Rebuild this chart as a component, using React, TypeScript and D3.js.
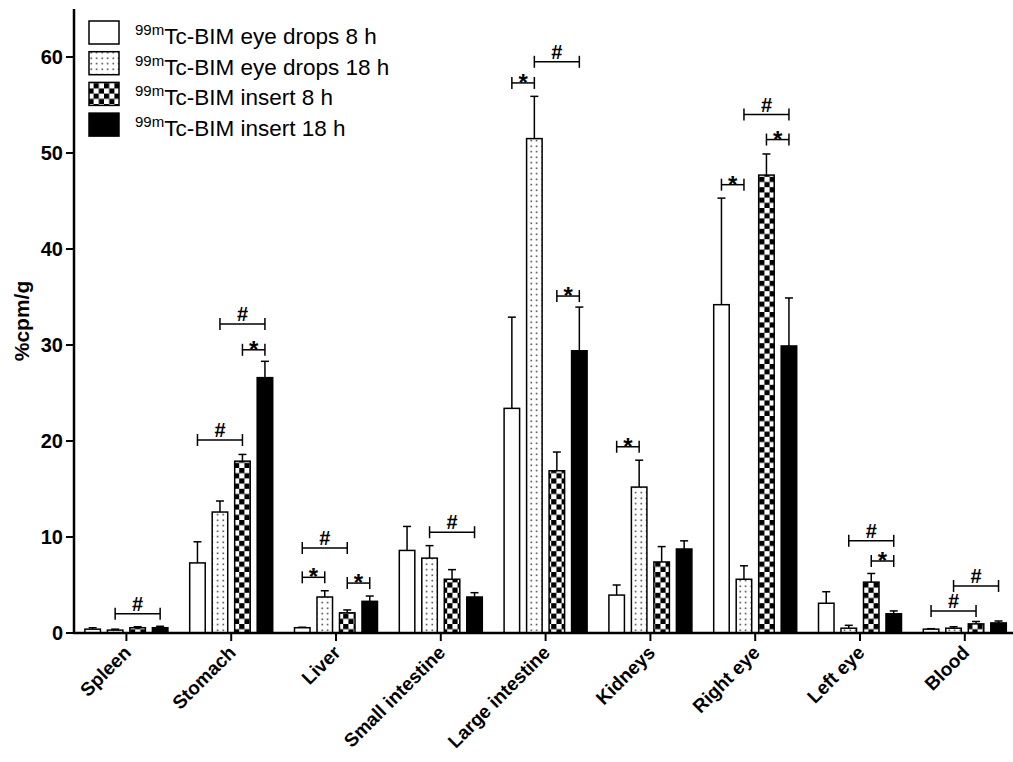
import React from 'react';
import * as d3 from 'd3';

// organs on the x axis
const organs = ['Spleen', 'Stomach', 'Liver', 'Small intestine', 'Large intestine', 'Kidneys', 'Right eye', 'Left eye', 'Blood'];

const seriesNames = [
  'Tc-BIM eye drops 8 h',
  'Tc-BIM eye drops 18 h',
  'Tc-BIM insert 8 h',
  'Tc-BIM insert 18 h',
];

// mean %cpm/g, one array per series (same order as organs)
const dropsMean8 = [0.4, 7.3, 0.55, 8.6, 23.4, 3.95, 34.2, 3.1, 0.4];
const dropsMean18 = [0.3, 12.6, 3.75, 7.8, 51.5, 15.2, 5.6, 0.5, 0.5];
const insertMean8 = [0.55, 17.9, 2.1, 5.6, 16.9, 7.4, 47.7, 5.3, 0.95];
const insertMean18 = [0.55, 26.6, 3.3, 3.75, 29.4, 8.75, 29.9, 2.0, 1.05];

// top of the error bar (mean + SD)
const dropsErr8 = [0.55, 9.5, 0.6, 11.1, 32.9, 5.0, 45.3, 4.3, 0.45];
const dropsErr18 = [0.4, 13.75, 4.4, 9.1, 55.9, 18.0, 7.0, 0.8, 0.65];
const insertErr8 = [0.65, 18.6, 2.4, 6.6, 18.85, 9.0, 49.9, 6.2, 1.2];
const insertErr18 = [0.7, 28.3, 3.85, 4.2, 33.95, 9.6, 34.9, 2.3, 1.25];

const means = [dropsMean8, dropsMean18, insertMean8, insertMean18];
const errs = [dropsErr8, dropsErr18, insertErr8, insertErr18];

// significance brackets: organ, from series, to series, height (data units), symbol
const brackets: [number, number, number, number, string][] = [
  [0, 1, 3, 2.0, '#'],
  [1, 0, 2, 20.1, '#'],
  [1, 1, 3, 32.2, '#'],
  [1, 2, 3, 29.5, '*'],
  [2, 0, 2, 8.85, '#'],
  [2, 0, 1, 5.8, '*'],
  [2, 2, 3, 5.2, '*'],
  [3, 1, 3, 10.5, '#'],
  [4, 0, 1, 57.3, '*'],
  [4, 1, 3, 59.5, '#'],
  [4, 2, 3, 35.1, '*'],
  [5, 0, 1, 19.4, '*'],
  [6, 0, 1, 46.7, '*'],
  [6, 1, 3, 54.0, '#'],
  [6, 2, 3, 51.4, '*'],
  [7, 1, 3, 9.6, '#'],
  [7, 2, 3, 7.5, '*'],
  [8, 0, 2, 2.3, '#'],
  [8, 1, 3, 4.9, '#'],
];

const yTicks = [0, 10, 20, 30, 40, 50, 60];

const fills = ['#fff', 'url(#dots)', 'url(#checks)', '#000'];
const font = "'Liberation Sans', Arial, Helvetica, sans-serif";

export default function App() {
  const width = 1013;
  const height = 762;
  const left = 74;
  const base = 633;

  const y = d3.scaleLinear().domain([0, 65]).range([base, base - 65 * 9.6]);
  const x = d3.scaleBand().domain(organs).range([left, left + 9 * 104.8]).padding(0);
  const inner = d3.scaleBand().domain(['0', '1', '2', '3']).range([-41.5, 41.5]).paddingInner(0.31).paddingOuter(0);
  const bw = inner.bandwidth();
  const cx = (o: number) => (x(organs[o]) as number) + x.bandwidth() / 2;
  const barX = (o: number, s: number) => cx(o) + (inner(String(s)) as number);
  const barC = (o: number, s: number) => barX(o, s) + bw / 2;

  return (
    <svg width={width} height={height} style={{ display: 'block', position: 'absolute', left: 0, top: 0 }} fontFamily={font}>
      <defs>
        <pattern id="dots" width="5.5" height="5.5" patternUnits="userSpaceOnUse" x="1" y="1">
          <rect width="5.5" height="5.5" fill="#fff" />
          <rect x="1.5" y="1.5" width="1.4" height="1.4" fill="#111" />
        </pattern>
        <pattern id="checks" width="10.4" height="10.4" patternUnits="userSpaceOnUse">
          <rect width="10.4" height="10.4" fill="#fff" />
          <rect width="5.2" height="5.2" fill="#000" />
          <rect x="5.2" y="5.2" width="5.2" height="5.2" fill="#000" />
        </pattern>
      </defs>

      {/* bars */}
      {means.map((vals, s) =>
        vals.map((v, o) => (
          <g key={`b${s}-${o}`}>
            <line x1={barC(o, s)} x2={barC(o, s)} y1={y(v)} y2={y(errs[s][o])} stroke="#000" strokeWidth={1.5} />
            <line x1={barC(o, s) - 4} x2={barC(o, s) + 4} y1={y(errs[s][o])} y2={y(errs[s][o])} stroke="#000" strokeWidth={1.5} />
            <rect x={barX(o, s)} y={y(v)} width={bw} height={base - y(v)} fill={fills[s]} stroke="#000" strokeWidth={1.5} />
          </g>
        ))
      )}

      {/* significance */}
      {brackets.map(([o, a, b, h, sym], i) => {
        const x1 = barC(o, a);
        const x2 = barC(o, b);
        const yy = y(h);
        return (
          <g key={`s${i}`} stroke="#000" strokeWidth={1.5}>
            <line x1={x1} x2={x2} y1={yy} y2={yy} />
            <line x1={x1} x2={x1} y1={yy - 6} y2={yy + 6} />
            <line x1={x2} x2={x2} y1={yy - 6} y2={yy + 6} />
            <text x={(x1 + x2) / 2} y={sym === '*' ? yy + 8 : yy - 3} textAnchor="middle" fontSize={sym === '*' ? 24 : 20} fontWeight="bold" stroke="none" fill="#000">
              {sym}
            </text>
          </g>
        );
      })}

      {/* y axis */}
      <line x1={left} x2={left} y1={y(65)} y2={base} stroke="#000" strokeWidth={2.5} />
      {yTicks.map((t) => (
        <g key={`y${t}`}>
          <line x1={left - 8} x2={left} y1={y(t)} y2={y(t)} stroke="#000" strokeWidth={2} />
          <text x={left - 11} y={y(t)} dy="0.36em" textAnchor="end" fontSize={20} fontWeight="bold">
            {t}
          </text>
        </g>
      ))}
      <text transform={`translate(29, ${(y(65) + base) / 2}) rotate(-90)`} textAnchor="middle" fontSize={21} fontWeight="bold">
        %cpm/g
      </text>

      {/* x axis */}
      <line x1={left - 1} x2={width} y1={base} y2={base} stroke="#000" strokeWidth={2.5} />
      {organs.map((c, o) => (
        <g key={c}>
          <line x1={cx(o)} x2={cx(o)} y1={base} y2={base + 8} stroke="#000" strokeWidth={2} />
          <text transform={`translate(${cx(o) + 1}, ${base + 16}) rotate(-45)`} dy="0.35em" textAnchor="end" fontSize={19} fontWeight="bold">
            {c}
          </text>
        </g>
      ))}

      {/* legend */}
      {seriesNames.map((n, s) => {
        const by = 44 + s * 30.7;
        return (
          <g key={n}>
            <rect x={89} y={by - 23} width={30} height={23} fill={fills[s]} stroke="#000" strokeWidth={1.5} />
            <text x={135} y={by} fontSize={22.5}>
              <tspan fontSize={15} dy={-9}>99m</tspan>
              <tspan dy={9}>{n}</tspan>
            </text>
          </g>
        );
      })}
    </svg>
  );
}
